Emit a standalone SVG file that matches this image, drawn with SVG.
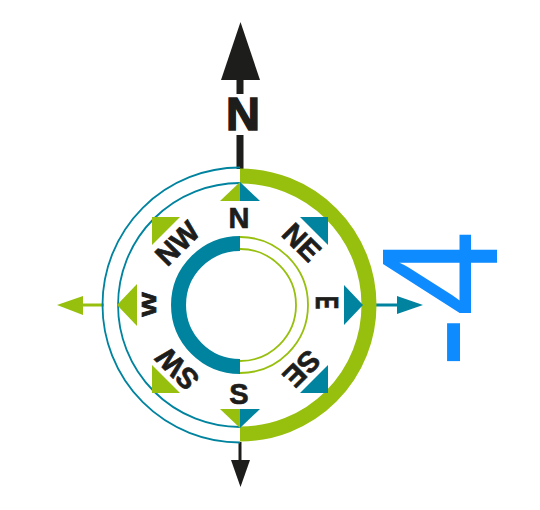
<svg xmlns="http://www.w3.org/2000/svg" width="540" height="510" viewBox="0 0 540 510">
<style>
.g{fill:#97bf0d}
.t{fill:#00839f}
.k{fill:#1d1d1b}
.lbl{font-family:"Liberation Sans",Arial,sans-serif;font-weight:bold;fill:#1d1d1b;stroke:#1d1d1b;stroke-width:0.7;text-anchor:middle}
.ring{fill:none}
</style>
<rect width="540" height="510" fill="#ffffff"/>
<g id="connectors">
  <rect class="k" x="236.5" y="79" width="7" height="15"/>
  <polygon class="k" points="221,80 260,80 240.5,22"/>
  <rect class="k" x="236.5" y="135" width="7" height="34"/>
  <line x1="240" y1="442" x2="240" y2="461" stroke="#1d1d1b" stroke-width="3"/>
  <polygon class="k" points="231,460 250,460 240.5,487"/>
  <line x1="82" y1="305" x2="104" y2="305" stroke="#97bf0d" stroke-width="3"/>
  <polygon class="g" points="83,296 83,315 57,305"/>
  <line x1="376" y1="305" x2="398" y2="305" stroke="#00839f" stroke-width="3"/>
  <polygon class="t" points="397,296 397,314 423,305"/>
</g>
<g id="north-label">
  <text class="lbl" x="243" y="130" font-size="47" style="stroke-width:1.6">N</text>
</g>
<g id="rings">
  <path class="ring" d="M240,167.5 A137.5,137.5 0 0 0 240,442.5" stroke="#00839f" stroke-width="1.8"/>
  <path class="ring" d="M240,183 A122,122 0 0 0 240,427" stroke="#00839f" stroke-width="1.8"/>
  <path class="ring" d="M240,176 A129,129 0 0 1 240,434" stroke="#97bf0d" stroke-width="15"/>
  <path class="ring" d="M240,243.5 A61.5,61.5 0 0 0 240,366.5" stroke="#00839f" stroke-width="15"/>
  <path class="ring" d="M240,237 A68,68 0 0 1 240,373" stroke="#97bf0d" stroke-width="1.8"/>
  <path class="ring" d="M240,249 A56,56 0 0 1 240,361" stroke="#97bf0d" stroke-width="1.8"/>
</g>
<g id="marker-n">
  <polygon class="g" points="240,182 240,201 220,201"/>
  <polygon class="t" points="240,182 260,201 240,201"/>
</g>
<g id="marker-s">
  <polygon class="g" points="240,428 240,409 220,409"/>
  <polygon class="t" points="240,428 260,409 240,409"/>
</g>
<g id="marker-e"><polygon class="t" points="344,285 363,305 344,325"/></g>
<g id="marker-w"><polygon class="g" points="137,284 117,305 137,326"/></g>
<g id="marker-ne"><polygon class="t" points="300,217 328,217 328,245"/></g>
<g id="marker-nw"><polygon class="g" points="180,217 152,217 152,245"/></g>
<g id="marker-se"><polygon class="t" points="328,365 328,393 300,393"/></g>
<g id="marker-sw"><polygon class="g" points="152,365 152,393 180,393"/></g>
<g id="label-n"><text class="lbl" transform="translate(239,217)" y="10.5" font-size="29">N</text></g>
<g id="label-s"><text class="lbl" transform="translate(239,393)" y="10.5" font-size="29">S</text></g>
<g id="label-e"><text class="lbl" transform="translate(328,302.5) rotate(90) scale(0.62,1)" y="11.5" font-size="32">E</text></g>
<g id="label-w"><text class="lbl" transform="translate(149,304.5) rotate(-90) scale(1.3,1)" y="7" font-size="20">W</text></g>
<g id="label-ne"><text class="lbl" transform="translate(302,242) rotate(45)" y="10.5" font-size="29">NE</text></g>
<g id="label-nw"><text class="lbl" transform="translate(177,243) rotate(-45)" y="10.5" font-size="29">NW</text></g>
<g id="label-sw"><text class="lbl" transform="translate(177,369) rotate(-135)" y="10.5" font-size="29">SW</text></g>
<g id="label-se"><text class="lbl" transform="translate(302,369) rotate(135)" y="10.5" font-size="29">SE</text></g>
<g id="big-label">
  <text transform="translate(497,368) rotate(-90) scale(1,1.07)" x="0" y="0" font-family="Liberation Sans,Arial,sans-serif" font-size="155" fill="#0e8bff">-4</text>
</g>
</svg>
